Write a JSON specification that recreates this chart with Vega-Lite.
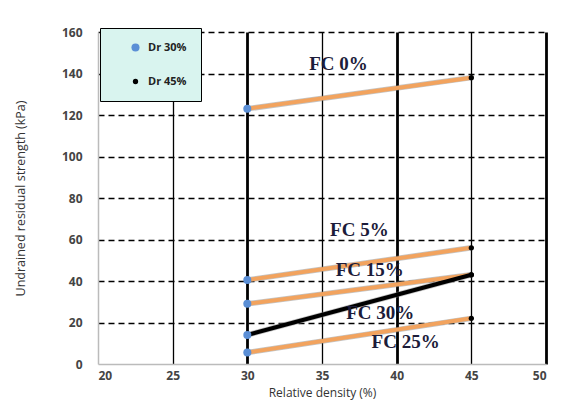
{
  "$schema": "https://vega.github.io/schema/vega-lite/v6.json",
  "autosize": "none",
  "width": 448,
  "height": 332,
  "padding": {"left": 98, "top": 32, "right": 40, "bottom": 39},
  "background": "white",
  "config": {
    "view": {"stroke": null},
    "font": "Open Sans"
  },
  "datasets": {
    "pts": [
      {"fc": "FC 0%", "dr": 30, "strength": 123, "series": "Dr 30%"},
      {"fc": "FC 0%", "dr": 45, "strength": 138, "series": "Dr 45%"},
      {"fc": "FC 5%", "dr": 30, "strength": 40.5, "series": "Dr 30%"},
      {"fc": "FC 5%", "dr": 45, "strength": 56, "series": "Dr 45%"},
      {"fc": "FC 15%", "dr": 30, "strength": 29, "series": "Dr 30%"},
      {"fc": "FC 15%", "dr": 45, "strength": 43, "series": "Dr 45%"},
      {"fc": "FC 30%", "dr": 30, "strength": 14, "series": "Dr 30%"},
      {"fc": "FC 30%", "dr": 45, "strength": 43, "series": "Dr 45%"},
      {"fc": "FC 25%", "dr": 30, "strength": 5.5, "series": "Dr 30%"},
      {"fc": "FC 25%", "dr": 45, "strength": 22, "series": "Dr 45%"}
    ],
    "labels": [
      {"fc": "FC 0%", "x": 36.1, "y": 144.5},
      {"fc": "FC 5%", "x": 37.5, "y": 64.8},
      {"fc": "FC 15%", "x": 38.2, "y": 45.5},
      {"fc": "FC 30%", "x": 38.9, "y": 24.8},
      {"fc": "FC 25%", "x": 40.6, "y": 10.8}
    ]
  },
  "layer": [
    {
      "data": {"name": "pts"},
      "mark": {"type": "line", "strokeWidth": 5.5, "color": "#8a8a8a", "opacity": 0.5},
      "encoding": {
        "x": {
          "field": "dr", "type": "quantitative",
          "scale": {"domain": [20, 50], "nice": false},
          "axis": {
            "values": [20, 25, 30, 35, 40, 45, 50],
            "title": "Relative density (%)",
            "titleFontSize": 12, "titleColor": "#333", "titleFontWeight": "normal", "titlePadding": 6,
            "labelFontSize": 12, "labelColor": "#444", "labelFontWeight": "bold", "labelPadding": 6,
            "ticks": false,
            "domainColor": "#bbbbbb", "domainWidth": 1.5,
            "grid": true,
            "gridColor": {"expr": "datum.value == 20 ? 'transparent' : 'black'"},
            "gridWidth": {"expr": "datum.value % 10 == 0 ? 2.8 : 1.3"}
          }
        },
        "y": {
          "field": "strength", "type": "quantitative",
          "scale": {"domain": [0, 160], "nice": false},
          "axis": {
            "values": [0, 20, 40, 60, 80, 100, 120, 140, 160],
            "title": "Undrained residual strength (kPa)",
            "titleFontSize": 12.5, "titleColor": "#333", "titleFontWeight": "normal", "titlePadding": 34,
            "labelFontSize": 12, "labelColor": "#444", "labelFontWeight": "bold", "labelPadding": 16,
            "ticks": false,
            "domainColor": "#bbbbbb", "domainWidth": 1.5,
            "grid": true,
            "gridColor": {"expr": "datum.value == 0 ? 'transparent' : 'black'"},
            "gridDash": [6, 4],
            "gridWidth": 1.3
          }
        },
        "detail": {"field": "fc"}
      }
    },
    {
      "data": {"name": "pts"},
      "mark": {"type": "line", "strokeWidth": 4},
      "encoding": {
        "x": {"field": "dr", "type": "quantitative"},
        "y": {"field": "strength", "type": "quantitative"},
        "detail": {"field": "fc"},
        "color": {"condition": {"test": "datum.fc == 'FC 30%'", "value": "black"}, "value": "#f2a35e"}
      }
    },
    {
      "data": {"name": "pts"},
      "mark": {"type": "point", "filled": true, "opacity": 1},
      "encoding": {
        "x": {"field": "dr", "type": "quantitative"},
        "y": {"field": "strength", "type": "quantitative"},
        "color": {
          "field": "series", "type": "nominal",
          "scale": {"domain": ["Dr 30%", "Dr 45%"], "range": ["#5b8fd6", "black"]},
          "legend": {
            "title": null,
            "orient": "none", "legendX": 2, "legendY": -4,
            "fillColor": "#d9f4ef", "strokeColor": "black",
            "padding": 14, "rowPadding": 22,
            "symbolOffset": 16, "labelOffset": 7,
            "labelExpr": "datum.label + '            '",
            "labelFontSize": 11, "labelColor": "#222", "labelFontWeight": "bold",
            "symbolType": "circle", "symbolStrokeWidth": 0
          }
        },
        "size": {
          "field": "series", "type": "nominal",
          "scale": {"domain": ["Dr 30%", "Dr 45%"], "range": [65, 28]},
          "legend": null
        }
      }
    },
    {
      "data": {"name": "labels"},
      "mark": {"type": "text", "font": "Liberation Serif", "fontSize": 19, "fontWeight": "bold", "color": "#1c1c3a"},
      "encoding": {
        "x": {"field": "x", "type": "quantitative"},
        "y": {"field": "y", "type": "quantitative"},
        "text": {"field": "fc"}
      }
    }
  ]
}
